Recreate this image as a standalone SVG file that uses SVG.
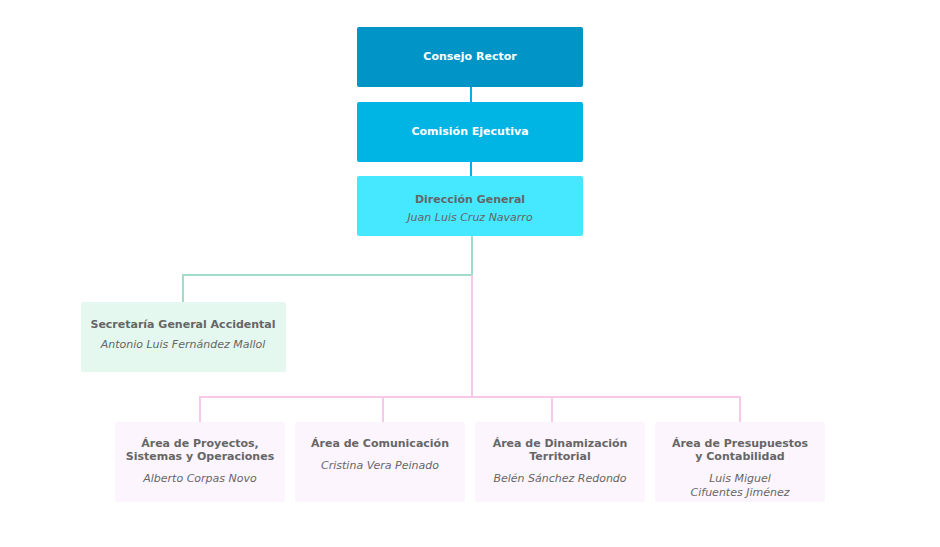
<svg xmlns="http://www.w3.org/2000/svg" width="940" height="547" viewBox="0 0 940 547">
<style>
text{font-family:"DejaVu Sans",Verdana,sans-serif;font-size:11px;text-anchor:middle;fill:#666}
.b{font-weight:bold}
.i{font-style:italic}
.w{fill:#fff}
.area{fill:#fdf5fd}
</style>
<rect width="940" height="547" fill="#fff"/>
<g id="connectors" fill="none" stroke-width="2">
<path d="M471 87V102M471 162V176" stroke="#00b0e0"/>
<path d="M472 236V275H183V302" stroke="#a0dcc8"/>
<path d="M472 275V397M200 422V397H740V422M383 397V422M552 397V422" stroke="#f9c8e8"/>
</g>
<g id="consejo"><rect x="357" y="27" width="226" height="60" rx="2" fill="#0095c6"/><text x="470" y="60" class="b w">Consejo Rector</text></g>
<g id="comision"><rect x="357" y="102" width="226" height="60" rx="2" fill="#00b4e4"/><text x="470" y="135" class="b w">Comisión Ejecutiva</text></g>
<g id="direccion"><rect x="357" y="176" width="226" height="60" rx="2" fill="#45e8fe"/><text x="470" y="203" class="b">Dirección General</text><text x="470" y="221" class="i">Juan Luis Cruz Navarro</text></g>
<g id="secretaria"><rect x="81" y="302" width="205" height="70" rx="2" fill="#e4f8f0"/><text x="183" y="328" class="b">Secretaría General Accidental</text><text x="183" y="348" class="i">Antonio Luis Fernández Mallol</text></g>
<g id="proyectos"><rect x="115" y="422" width="170" height="80" rx="2" class="area"/><text x="200" y="447" class="b">Área de Proyectos,</text><text x="200" y="460" class="b">Sistemas y Operaciones</text><text x="200" y="482" class="i">Alberto Corpas Novo</text></g>
<g id="comunicacion"><rect x="295" y="422" width="170" height="80" rx="2" class="area"/><text x="380" y="447" class="b">Área de Comunicación</text><text x="380" y="469" class="i">Cristina Vera Peinado</text></g>
<g id="dinamizacion"><rect x="475" y="422" width="170" height="80" rx="2" class="area"/><text x="560" y="447" class="b">Área de Dinamización</text><text x="560" y="460" class="b">Territorial</text><text x="560" y="482" class="i">Belén Sánchez Redondo</text></g>
<g id="presupuestos"><rect x="655" y="422" width="170" height="80" rx="2" class="area"/><text x="740" y="447" class="b">Área de Presupuestos</text><text x="740" y="460" class="b">y Contabilidad</text><text x="740" y="482" class="i">Luis Miguel</text><text x="740" y="496" class="i">Cifuentes Jiménez</text></g>
</svg>
